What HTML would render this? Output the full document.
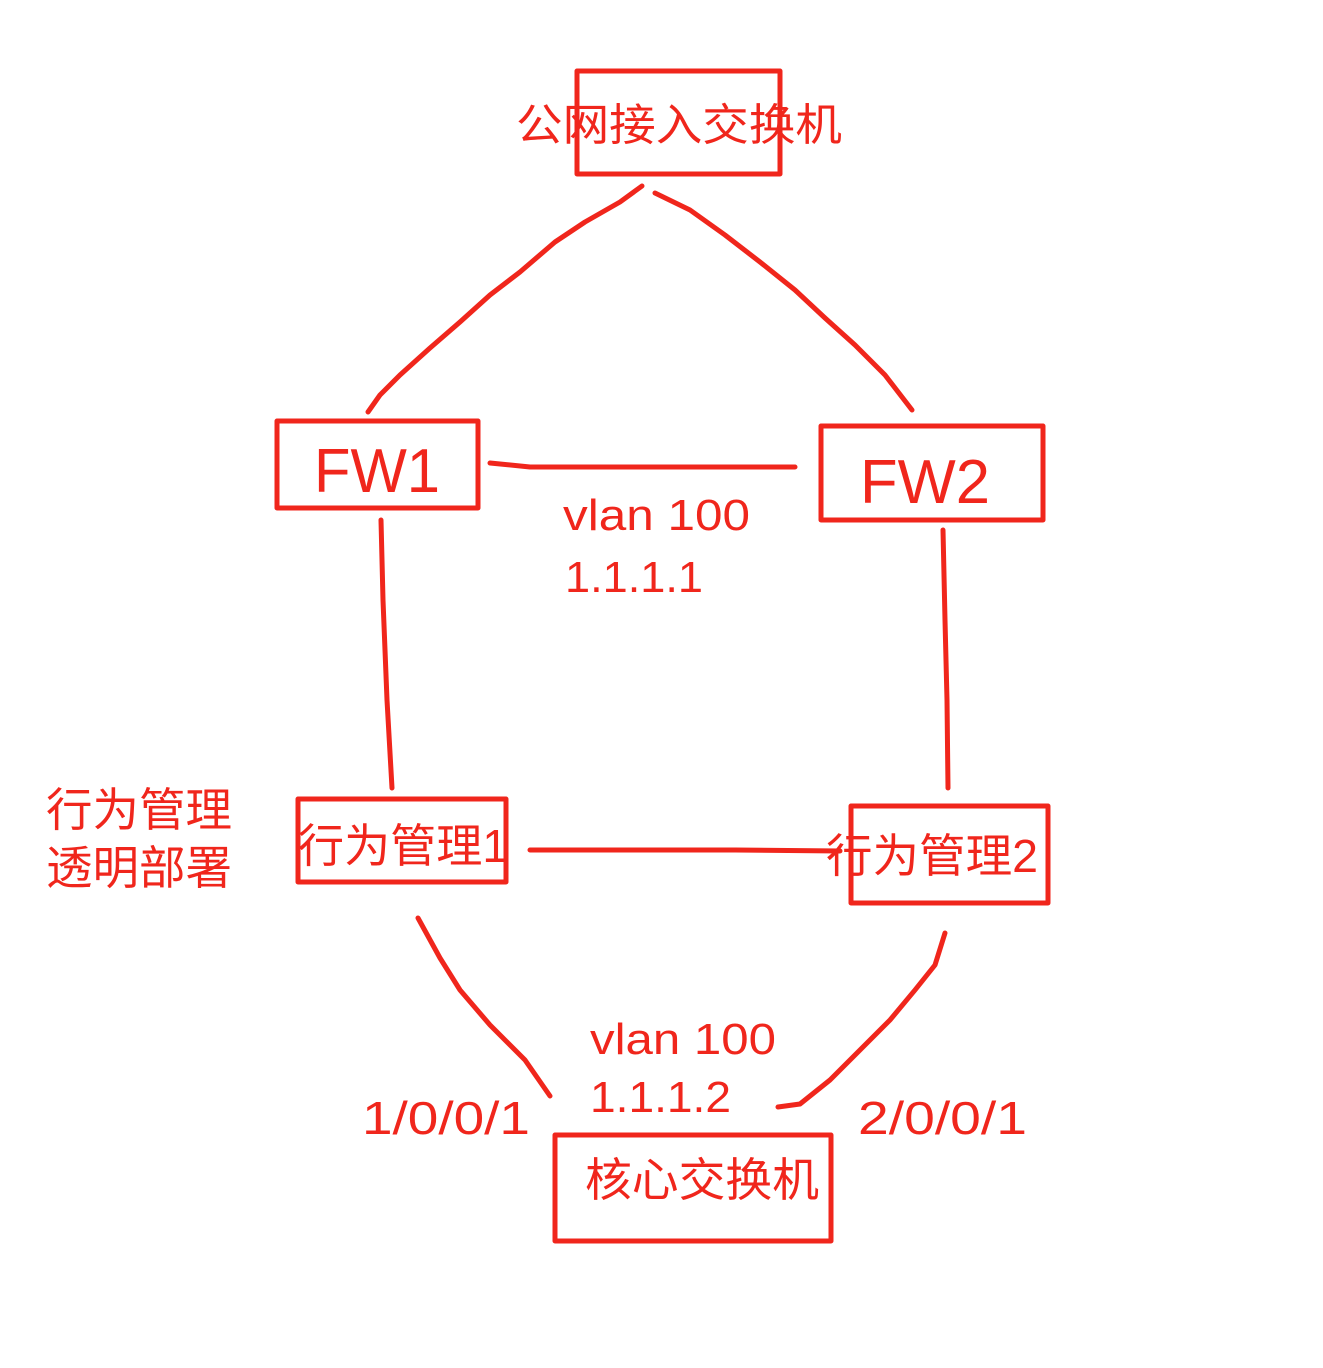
<!DOCTYPE html>
<html><head><meta charset="utf-8"><style>
html,body{margin:0;padding:0;background:#fff;}
svg{display:block;}
text{fill:#f0261c;font-family:"Liberation Sans","Noto Sans CJK SC",sans-serif;}
</style></head><body>
<svg width="1323" height="1368" viewBox="0 0 1323 1368" xmlns="http://www.w3.org/2000/svg">
<g fill="none" stroke="#f0261c" stroke-width="5" stroke-linecap="round" stroke-linejoin="round">
<rect x="577" y="71" width="203" height="103"/>
<rect x="277" y="421" width="201" height="87"/>
<rect x="821" y="426" width="222" height="94"/>
<rect x="298" y="799" width="208" height="83"/>
<rect x="851" y="806" width="197" height="97"/>
<rect x="555" y="1135" width="276" height="106"/>
<polyline points="642,186 620,202 585,222 555,242 520,272 490,295 460,322 430,348 400,375 380,395 368,412"/>
<polyline points="655,193 690,210 725,235 760,262 795,290 825,318 855,345 885,375 912,410"/>
<polyline points="490,463 530,467 795,467"/>
<polyline points="381,520 383,600 387,700 392,788"/>
<polyline points="943,530 945,620 947,700 948,788"/>
<polyline points="530,850 735,850 840,851"/>
<polyline points="418,918 440,958 460,990 490,1025 525,1060 550,1096"/>
<polyline points="945,933 935,965 915,990 890,1020 860,1050 830,1080 800,1104 778,1107"/>
</g>
<text x="516" y="140" font-size="44" textLength="326" lengthAdjust="spacingAndGlyphs">公网接入交换机</text>
<text x="314" y="492" font-size="62" textLength="126" lengthAdjust="spacingAndGlyphs">FW1</text>
<text x="860" y="503" font-size="62" textLength="130" lengthAdjust="spacingAndGlyphs">FW2</text>
<text x="563" y="530" font-size="44" textLength="187" lengthAdjust="spacingAndGlyphs">vlan 100</text>
<text x="565" y="592" font-size="44" textLength="138" lengthAdjust="spacingAndGlyphs">1.1.1.1</text>
<text x="46" y="826" font-size="46" textLength="186" lengthAdjust="spacingAndGlyphs">行为管理</text>
<text x="46" y="884" font-size="46" textLength="186" lengthAdjust="spacingAndGlyphs">透明部署</text>
<text x="298" y="862" font-size="46" textLength="210" lengthAdjust="spacingAndGlyphs">行为管理1</text>
<text x="826" y="872" font-size="46" textLength="212" lengthAdjust="spacingAndGlyphs">行为管理2</text>
<text x="590" y="1054" font-size="44" textLength="186" lengthAdjust="spacingAndGlyphs">vlan 100</text>
<text x="590" y="1112" font-size="44" textLength="141" lengthAdjust="spacingAndGlyphs">1.1.1.2</text>
<text x="362" y="1134" font-size="46" textLength="168" lengthAdjust="spacingAndGlyphs">1/0/0/1</text>
<text x="858" y="1134" font-size="46" textLength="169" lengthAdjust="spacingAndGlyphs">2/0/0/1</text>
<text x="585" y="1196" font-size="46" textLength="234" lengthAdjust="spacingAndGlyphs">核心交换机</text>
</svg>
</body></html>
